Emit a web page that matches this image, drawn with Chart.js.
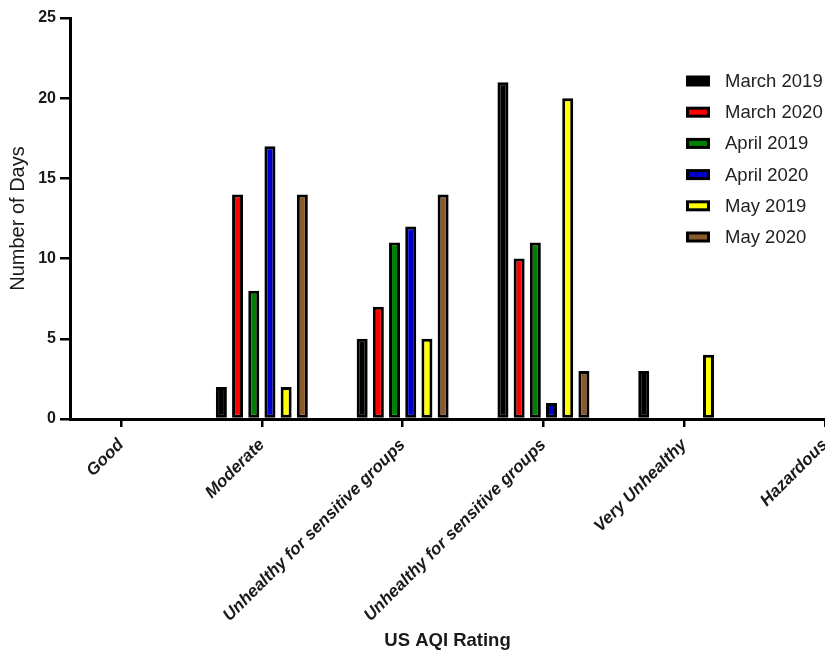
<!DOCTYPE html>
<html>
<head>
<meta charset="utf-8">
<script src="https://cdn.jsdelivr.net/npm/chart.js@4/dist/chart.umd.min.js"></script>
<style>
  html, body { margin: 0; padding: 0; background: #fff; }
  #wrap { width: 825px; height: 652px; }
</style>
</head>
<body>
<div id="wrap"><canvas id="c" width="825" height="652"></canvas></div>
<script>
const categories = ['Good', 'Moderate', 'Unhealthy for sensitive groups', 'Unhealthy for sensitive groups', 'Very Unhealthy', 'Hazardous'];
const seriesNames = ['March 2019', 'March 2020', 'April 2019', 'April 2020', 'May 2019', 'May 2020'];
const march2019 = [0, 2, 5, 21, 3, 0];
const march2020 = [0, 14, 7, 10, 0, 0];
const april2019 = [0, 8, 11, 11, 0, 0];
const april2020 = [0, 17, 12, 1, 0, 0];
const may2019 = [0, 2, 5, 20, 4, 0];
const may2020 = [0, 14, 14, 3, 0, 0];
const yTicks = [0, 5, 10, 15, 20, 25];
const seriesColors = ['#000000', '#ff0000', '#008000', '#0000cc', '#ffff00', '#8b5a2b'];

const seriesValues = [march2019, march2020, april2019, april2020, may2019, may2020];
const FONT = '"Liberation Sans", Arial, sans-serif';

const datasets = seriesValues.map((vals, i) => ({
  label: seriesNames[i],
  data: vals.map((v, k) => ({ x: k, y: v })),
  backgroundColor: seriesColors[i],
  borderColor: '#000',
  borderWidth: 3,
  borderSkipped: false,
  categoryPercentage: 0.69,
  barPercentage: 0.68
}));

const legendPlugin = {
  id: 'sideLegend',
  afterDraw(chart) {
    const ctx = chart.ctx;
    ctx.save();
    ctx.font = '18.5px ' + FONT;
    ctx.textBaseline = 'middle';
    ctx.textAlign = 'left';
    chart.data.datasets.forEach((ds, i) => {
      const cy = 81 + i * 31.2;
      ctx.fillStyle = '#000';
      ctx.fillRect(686, cy - 5.5, 24, 11);
      ctx.fillStyle = ds.backgroundColor;
      ctx.fillRect(689, cy - 2.5, 18, 5);
      ctx.fillStyle = '#222';
      ctx.fillText(ds.label, 725, cy + 1);
    });
    ctx.restore();
  }
};

new Chart(document.getElementById('c'), {
  type: 'bar',
  data: { datasets },
  plugins: [legendPlugin],
  options: {
    responsive: false,
    animation: false,
    layout: { padding: { top: 18, right: 0, left: 0, bottom: 0 } },
    plugins: { legend: { display: false }, tooltip: { enabled: false } },
    scales: {
      x: {
        type: 'linear',
        min: -0.3627,
        max: categories.length - 1,
        offset: false,
        afterBuildTicks(scale) {
          scale.ticks = categories.map((_, i) => ({ value: i }));
        },
        afterFit(scale) {
          scale.height = 233;
          scale.paddingLeft = 0;
          scale.paddingRight = 0;
        },
        ticks: {
          autoSkip: false,
          maxRotation: 45,
          minRotation: 45,
          padding: 8,
          color: '#1a1a1a',
          font: { family: FONT, size: 17, weight: 'bold', style: 'italic' },
          callback: (v) => categories[v]
        },
        grid: { offset: false, drawOnChartArea: false, drawTicks: true, tickLength: 8, color: '#000', lineWidth: 2.5 },
        border: { display: true, color: '#000', width: 3 },
        title: {
          display: true,
          text: 'US AQI Rating',
          color: '#1a1a1a',
          font: { family: FONT, size: 18.5, weight: 'bold' },
          padding: { top: 0, bottom: 0 }
        }
      },
      y: {
        min: 0,
        max: 25,
        afterBuildTicks(scale) {
          scale.ticks = yTicks.map(v => ({ value: v }));
        },
        afterFit(scale) {
          scale.width = 70;
        },
        ticks: {
          padding: 4,
          color: '#1a1a1a',
          font: { family: FONT, size: 16, weight: 'bold' }
        },
        grid: { drawOnChartArea: false, drawTicks: true, tickLength: 10, color: '#000', lineWidth: 2.5 },
        border: { display: true, color: '#000', width: 3 },
        title: {
          display: true,
          text: 'Number of Days',
          color: '#1a1a1a',
          font: { family: FONT, size: 20 },
          padding: { top: 6, bottom: 0 }
        }
      }
    }
  }
});
</script>
</body>
</html>
